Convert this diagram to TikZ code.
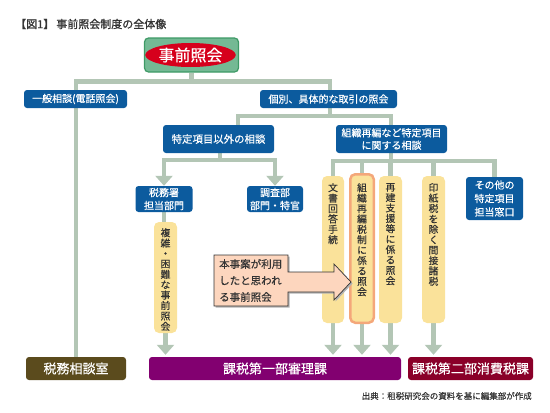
\documentclass[tikz,border=0pt]{standalone}
\usepackage{fontspec}
\setmainfont{Noto Sans CJK JP}[FakeBold=0.4]
\newfontfamily\titlefont{Noto Sans CJK JP}[FakeBold=1.0]
\usetikzlibrary{arrows.meta,backgrounds,shapes.geometric}
\definecolor{connc}{HTML}{B3C6B5}
\definecolor{blueb}{HTML}{0C5B9E}
\definecolor{yellowb}{HTML}{FAE29A}
\definecolor{orangeb}{HTML}{F4A77A}
\definecolor{greenf}{HTML}{74B994}
\definecolor{greend}{HTML}{3E9A66}
\definecolor{redc}{HTML}{D6001C}
\definecolor{olivec}{HTML}{5B4B1D}
\definecolor{purplec}{HTML}{820070}
\definecolor{darkredc}{HTML}{8A0029}
\definecolor{peachc}{HTML}{FDD6BE}
\definecolor{textd}{HTML}{333333}
\begin{document}
\begin{tikzpicture}[x=1pt,y=-1pt,
  conn/.style={draw=connc, line width=4.5pt},
  arr/.style={conn, -{Triangle[width=17pt,length=10pt]}, shorten >=2pt},
  bluebox/.style={rectangle, rounded corners=3pt, fill=blueb, text=white,
    font=\fontsize{10}{13}\selectfont, align=center, inner sep=0pt},
  ybox/.style={rectangle, rounded corners=5pt, fill=yellowb, minimum width=23pt, inner sep=0pt},
  vt/.style={anchor=north, inner sep=0pt, align=center, text=textd,
    font=\fontsize{9.8}{10.4}\selectfont},
  bottombox/.style={rectangle, rounded corners=3pt, minimum height=23pt, text=white,
    font=\fontsize{13}{15}\selectfont, inner sep=0pt}]
\useasboundingbox (0,0) rectangle (550,413);

% title
\node[anchor=west, inner sep=0pt, text=textd, font=\titlefont\fontsize{11}{12}\selectfont] (title) at (15,24) {【図1】\hspace{2pt}事前照会制度の全体像};

% top
\node[rectangle, rounded corners=4pt, fill=greenf, draw=greend, line width=1.2pt,
  minimum width=94pt, minimum height=34pt] (top) at (191.5,55) {};
\node[ellipse, fill=redc, minimum width=87pt, minimum height=24pt, inner sep=0pt,
  text=white, font=\fontsize{16}{18}\selectfont] (jizen) at (190.5,55) {事前照会};

% blue boxes
\node[bluebox, minimum width=103pt, minimum height=18pt] (ippan) at (75.5,99) {一般相談(電話照会)};
\node[bluebox, minimum width=137pt, minimum height=18pt] (kobetsu) at (328.5,99) {個別、具体的な取引の照会};
\node[bluebox, minimum width=111pt, minimum height=28pt, font=\fontsize{10.4}{13}\selectfont] (igai) at (218.5,139) {特定項目以外の相談};
\node[bluebox, minimum width=111pt, minimum height=28pt, font=\fontsize{10}{12.5}\selectfont] (soshiki) at (391.5,139) {組織再編など特定項目\\に関する相談};
\node[bluebox, minimum width=57pt, minimum height=26pt, font=\fontsize{10}{13}\selectfont] (zeimusho) at (164,199) {税務署\\担当部門};
\node[bluebox, minimum width=56pt, minimum height=26pt, font=\fontsize{10}{13}\selectfont] (chosa) at (275,199) {調査部\\部門・特官};
\node[bluebox, minimum width=57pt, minimum height=43pt, font=\fontsize{10}{13.5}\selectfont] (sonota) at (494.5,198.5) {その他の\\特定項目\\担当窓口};

% yellow boxes
\node[ybox, minimum height=111pt] (fuku) at (165.5,277.5) {};
\node[vt] (fukut) at (165.5,228) {複\\雑\\・\\困\\難\\な\\事\\前\\照\\会};
\node[ybox, minimum width=22pt, minimum height=147pt] (bunsho) at (333,249.5) {};
\node[vt] (bunshot) at (333,183) {文\\書\\回\\答\\手\\続};
\node[ybox, draw=orangeb, line width=2.5pt, minimum width=23.5pt, minimum height=148.5pt] (soshikizei) at (362,248.5) {};
\node[vt] (soshikizeit) at (362,183) {組\\織\\再\\編\\税\\制\\に\\係\\る\\照\\会};
\node[ybox, minimum height=147pt] (saiken) at (390.5,249.5) {};
\node[vt] (saikent) at (390.5,183) {再\\建\\支\\援\\等\\に\\係\\る\\照\\会};
\node[ybox, minimum height=147pt] (inshi) at (433.5,249.5) {};
\node[vt] (inshit) at (433.5,183) {印\\紙\\税\\を\\除\\く\\間\\接\\諸\\税};

% bottom boxes
\node[bottombox, fill=olivec, minimum width=100pt] (soudan) at (76,368.5) {税務相談室};
\node[bottombox, fill=purplec, minimum width=252pt] (kazei1) at (275,368.5) {課税第一部審理課};
\node[bottombox, fill=darkredc, minimum width=125pt] (kazei2) at (470.5,368.5) {課税第二部消費税課};

% source
\node[anchor=east, inner sep=0pt, text=textd, font=\fontsize{8.5}{10}\selectfont] (src) at (532,396) {出典：租税研究会の資料を基に編集部が作成};

% callout arrow
\fill[gray!60] (215.5,256.5) -- (289.5,256.5) -- (289.5,273.5) -- (335.5,273.5) -- (335.5,265.5) -- (352.5,283.5) -- (335.5,301.5) -- (335.5,293.5) -- (289.5,293.5) -- (289.5,307.5) -- (215.5,307.5) -- cycle;
\draw[fill=peachc, draw=textd, line width=0.7pt] (214,255) -- (288,255) -- (288,272) -- (334,272) -- (334,264) -- (351,282) -- (334,300) -- (334,292) -- (288,292) -- (288,306) -- (214,306) -- cycle;
\node[anchor=west, align=left, inner sep=0pt, text=textd, font=\fontsize{10.5}{16.5}\selectfont] (callout) at (219,280.5) {本事案が利用\\したと思われ\\る事前照会};

% connectors
\coordinate (j1) at (191.5,81.5);
\coordinate (j1r) at (330,81.5);
\coordinate (k2) at (330,116);
\coordinate (h1l) at (238,116);
\coordinate (h1r) at (391,116);
\coordinate (h2) at (220,160);
\coordinate (h3) at (391,161);
\begin{scope}[on background layer]
\draw[conn] (top.south) -- (j1);
\draw[conn] (soudan.north) |- (j1r) -- (k2);
\draw[conn] (igai.north -| h1l) -- (h1l) -- (h1r) -- (soshiki.north -| h1r);
\draw[conn] (igai.south -| h2) -- (h2);
\draw[arr, shorten >=0pt] (h2) -| (zeimusho.north);
\draw[arr, shorten >=0pt] (h2) -| (chosa.north);
\draw[conn] (zeimusho.south) -- (zeimusho.south |- fuku.north);
\draw[arr] (fuku.south) -- (fuku.south |- kazei1.north);
\draw[conn] (soshiki.south -| h3) -- (h3);
\draw[conn] (h3) -| (bunsho.north);
\draw[conn] (h3) -| (soshikizei.north);
\draw[conn] (h3) -| (saiken.north);
\draw[conn] (h3) -| (inshi.north);
\draw[conn] (h3) -| (sonota.north);
\draw[arr] (bunsho.south) -- (bunsho.south |- kazei1.north);
\draw[arr] (soshikizei.south) -- (soshikizei.south |- kazei1.north);
\draw[arr] (saiken.south) -- (saiken.south |- kazei1.north);
\draw[arr] (inshi.south) -- (inshi.south |- kazei2.north);
\end{scope}
\end{tikzpicture}
\end{document}
